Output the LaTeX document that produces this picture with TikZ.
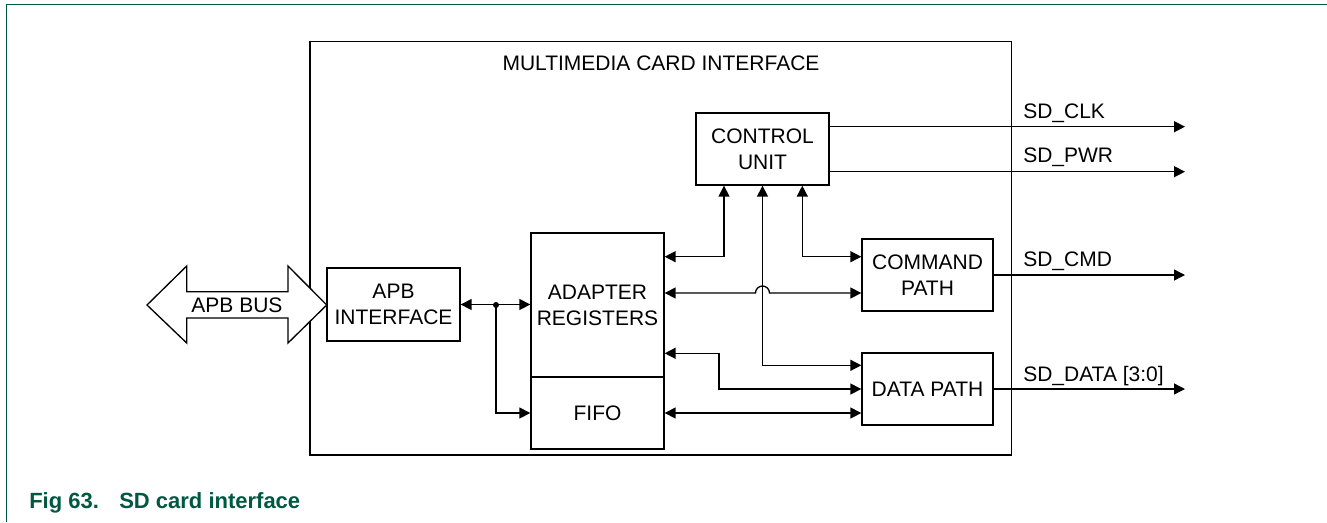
\documentclass[tikz,border=0pt]{standalone}
\usepackage{fontspec}
\setmainfont{Liberation Sans}
\usetikzlibrary{arrows.meta,calc}
\definecolor{nxpgreen}{RGB}{0,88,64}
\newcommand{\pxu}{0.75pt}
\newcommand{\dfont}{\fontsize{15.75}{19.5}\selectfont}
\newcommand{\cfont}{\fontsize{16.5}{19}\selectfont\bfseries}
\begin{document}
\begin{tikzpicture}[x=0.75pt,y=-0.75pt,
  box/.style={draw,line width=1pt,fill=white,inner sep=0pt,align=center,font=\dfont},
  lbl/.style={anchor=base west,inner sep=0pt,font=\dfont},
  arr/.style={line width=1pt,-{Triangle[length=8.2pt,width=8.2pt]}},
  darr/.style={line width=1pt,{Triangle[length=8.2pt,width=8.2pt]}-{Triangle[length=8.2pt,width=8.2pt]}}]
\useasboundingbox (0,0) rectangle (1327,522);
% green frame
\draw[nxpgreen,line width=1.1pt] (6.3,522) -- (6.3,4.3) -- (1327,4.3);
% outer box
\node[draw,line width=1.05pt,minimum width=701.7*\pxu,minimum height=413.3*\pxu,inner sep=0pt] (mci) at (660.85,248.35) {};
\node[font=\dfont,anchor=base,inner sep=0pt] (title) at (661,70) {MULTIMEDIA CARD INTERFACE};
% blocks
\node[box,minimum width=133*\pxu,minimum height=73*\pxu] (apb) at (393.5,304.5) {APB\\INTERFACE};
\node[box,minimum width=133*\pxu,minimum height=144*\pxu] (adapt) at (597.5,305) {ADAPTER\\REGISTERS};
\node[box,minimum width=133*\pxu,minimum height=72*\pxu] (fifo) at (597.5,413) {FIFO};
\node[box,minimum width=133*\pxu,minimum height=72*\pxu] (cu) at (762.5,149) {CONTROL\\UNIT};
\node[box,minimum width=131*\pxu,minimum height=72*\pxu] (cmd) at (927.5,275) {COMMAND\\PATH};
\node[box,minimum width=131*\pxu,minimum height=72*\pxu] (data) at (927.5,389) {DATA PATH};
% APB bus double arrow
\draw[line width=1pt,fill=white] (147,305) -- (186.7,266) -- (186.7,291.7) -- (288,291.7) -- (288,266)
  -- (326.7,305) -- (288,343) -- (288,318) -- (186.7,318) -- (186.7,343) -- cycle;
\node[font=\dfont,inner sep=0pt] (bus) at (237,305.5) {APB BUS};
% APB interface to adapter / fifo
\coordinate (j) at (496,305);
\draw[darr] (apb.east) -- (adapt.west |- apb.east);
\draw[arr] (j) |- (fifo.west);
\fill (j) circle[radius=3*\pxu];
% adapter <-> control unit
\draw[darr] ([yshift=48.3*\pxu]adapt.east) -| ([xshift=-38.5*\pxu]cu.south);
% control unit <-> command path
\draw[darr] ([xshift=39.8*\pxu]cu.south) |- ([yshift=18.3*\pxu]cmd.west);
% adapter <-> command path with hop
\path ([yshift=12*\pxu]adapt.east) coordinate (aH);
\coordinate (hopc) at (cu.south |- aH);
\draw[darr] (aH) -- ([xshift=-7*\pxu]hopc) arc[start angle=180,end angle=0,radius=7*\pxu] -- (cmd.west |- aH);
% control unit <-> data path
\draw[darr] (cu.south) |- ([yshift=23.7*\pxu]data.west);
% adapter <-> data path
\draw[darr] ([yshift=-48.3*\pxu]adapt.east) -- ++(54.3,0) |- (data.west);
% fifo <-> data path
\draw[darr] (fifo.east) -- (data.west |- fifo.east);
% outputs
\coordinate (tipx) at (1185,0);
\path ([yshift=22.3*\pxu]cu.east) coordinate (clk0);
\path ([yshift=-22.7*\pxu]cu.east) coordinate (pwr0);
\draw[arr] (clk0) -- (tipx |- clk0);
\draw[arr] (pwr0) -- (tipx |- pwr0);
\draw[arr] (cmd.east) -- (tipx |- cmd.east);
\draw[arr] (data.east) -- (tipx |- data.east);
\node[lbl] (lclk) at (1023,118.3) {SD\_CLK};
\node[lbl] (lpwr) at (1023,162.7) {SD\_PWR};
\node[lbl] (lcmd) at (1023,266.7) {SD\_CMD};
\node[lbl] (ldata) at (1023,381.7) {SD\_DATA [3:0]};
% caption
\node[anchor=base west,inner sep=0pt,font=\cfont,text=nxpgreen] (fig) at (29,508) {Fig 63.};
\node[anchor=base west,inner sep=0pt,font=\cfont,text=nxpgreen] (cap) at (119,508) {SD card interface};
\end{tikzpicture}
\end{document}
